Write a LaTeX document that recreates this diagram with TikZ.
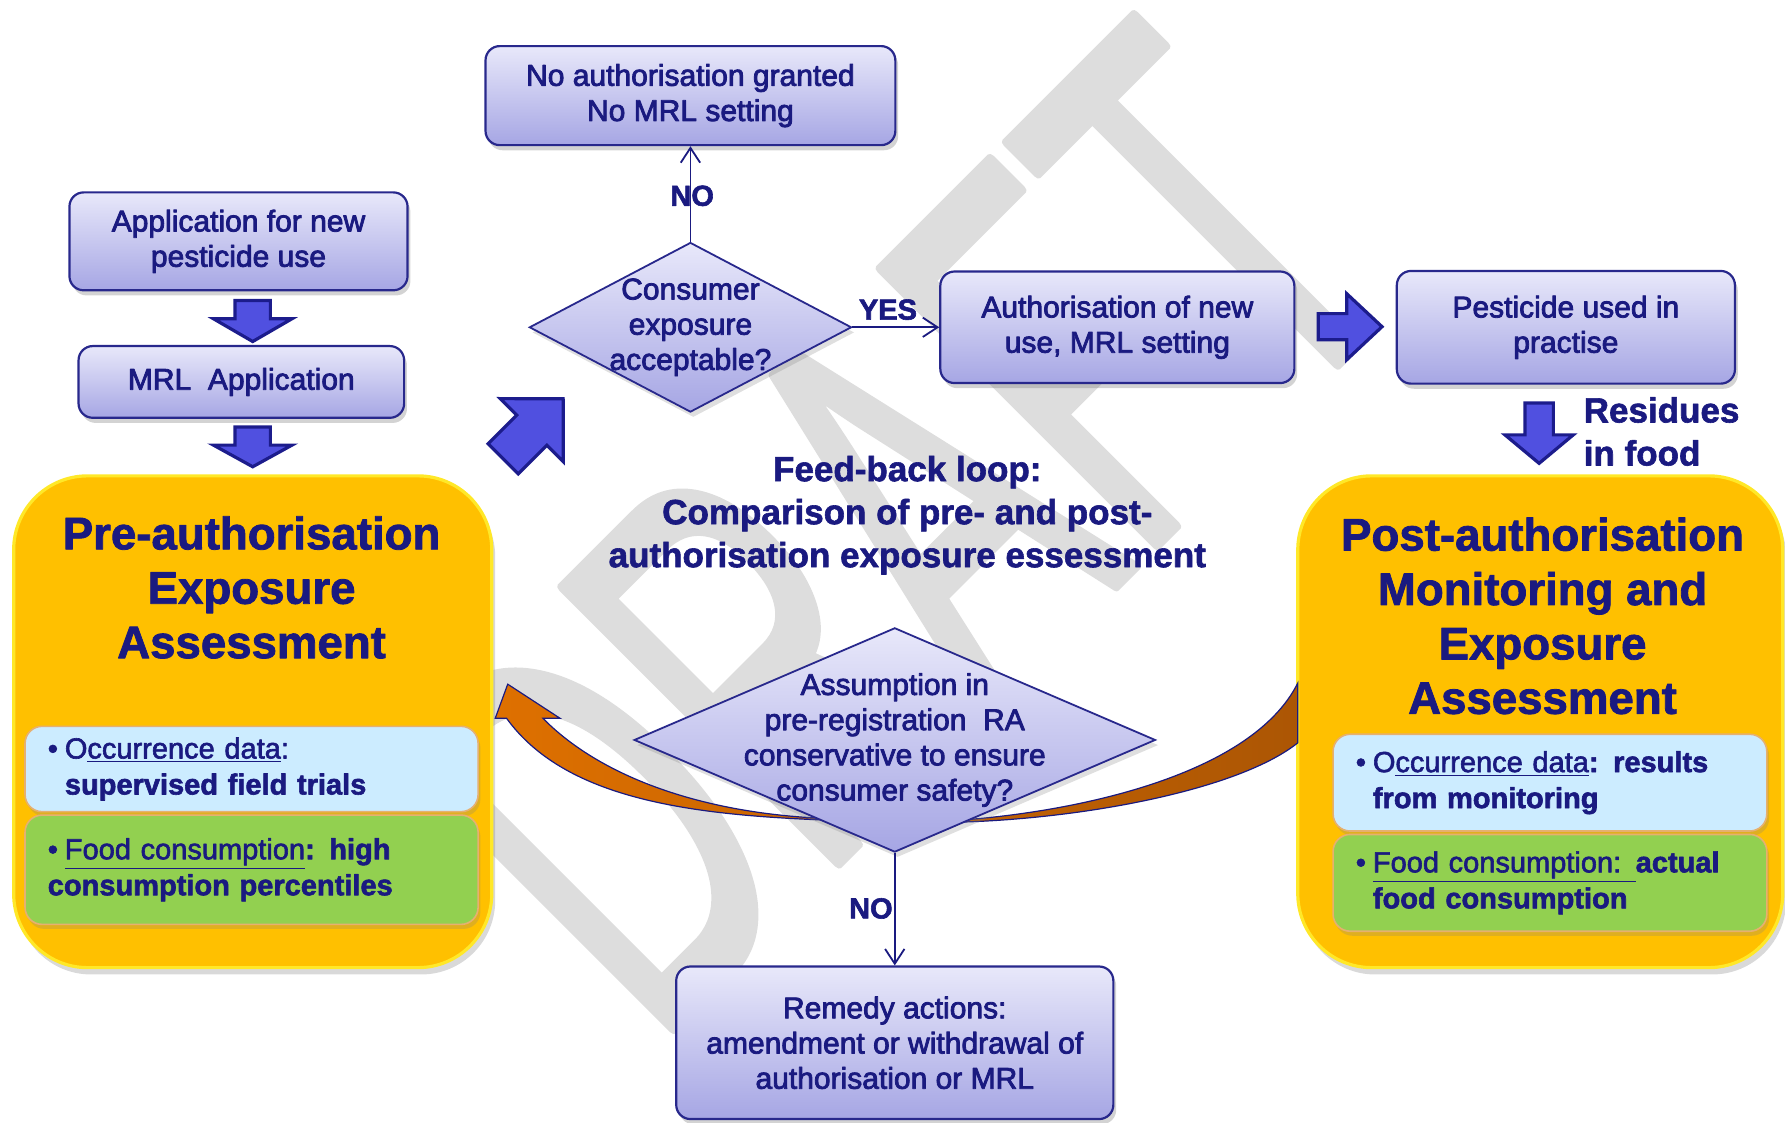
\documentclass[tikz,border=0pt]{standalone}
\usepackage{fontspec}
\setmainfont{Liberation Sans}
\usetikzlibrary{shapes.geometric,shadows,arrows.meta}

\definecolor{navy}{RGB}{26,26,128}
\definecolor{boxtop}{RGB}{232,232,250}
\definecolor{boxbot}{RGB}{166,166,228}
\definecolor{boxline}{RGB}{40,40,140}
\definecolor{arrfill}{RGB}{80,80,224}
\definecolor{arrline}{RGB}{28,28,140}
\definecolor{amber}{RGB}{255,192,0}
\definecolor{amberline}{RGB}{255,232,40}
\definecolor{skyfill}{RGB}{204,236,255}
\definecolor{leaf}{RGB}{146,208,80}
\definecolor{tanline}{RGB}{230,176,112}
\definecolor{wmark}{RGB}{221,221,221}
\definecolor{orangeL}{RGB}{222,112,0}
\definecolor{orangeR}{RGB}{172,86,4}

\newcommand{\bulletmark}{\makebox[0.3cm][l]{\textbullet}}
% heavier text strokes
\newcommand{\inkstroke}[1]{\special{pdf:literal direct 2 Tr #1 w 1 j}}

\tikzset{
  flowbox/.style={rectangle, rounded corners=0.25cm, draw=boxline, line width=1.1pt,
    top color=boxtop, bottom color=boxbot, text=navy, align=center,
    font=\fontsize{15}{17.6}\selectfont\inkstroke{0.4},
    drop shadow={opacity=0.35, shadow xshift=0.5mm, shadow yshift=-0.9mm}},
  decision/.style={diamond, draw=boxline, line width=0.9pt, inner sep=0pt,
    top color=boxtop, bottom color=boxbot,
    drop shadow={opacity=0.25, shadow xshift=0.5mm, shadow yshift=-0.9mm}},
  dtext/.style={text=navy, align=center, font=\fontsize{15}{17.6}\selectfont\inkstroke{0.4}},
  bigbox/.style={rectangle, rounded corners=1.3cm, fill=amber, draw=amberline, line width=1.6pt,
    drop shadow={opacity=0.3, shadow xshift=0.6mm, shadow yshift=-1.2mm}},
  infobox/.style={rectangle, rounded corners=0.3cm, draw=tanline, line width=0.8pt,
    text=navy, align=left, inner xsep=0.4cm, font=\fontsize{14.5}{18}\selectfont\inkstroke{0.3},
    drop shadow={opacity=0.25, shadow xshift=0.4mm, shadow yshift=-0.8mm}},
  title/.style={text=navy, align=center, font=\fontsize{22.8}{27.2}\selectfont\bfseries\inkstroke{0.4}},
  lbl/.style={text=navy, font=\fontsize{14.5}{16}\selectfont\bfseries\inkstroke{0.3}},
  link/.style={draw=navy, line width=0.9pt, -{Straight Barb[length=2.6mm,width=3.4mm]}},
  watermark/.style={text=wmark, inner sep=0pt, transform shape,
    font=\fontsize{162}{162}\selectfont\inkstroke{3.0}},
  pics/blockarr/.style n args={4}{code={
    \draw[fill=arrfill, draw=arrline, line width=1.6pt, line join=miter]
      (0,-#3/2) -- ({#1-#2},-#3/2) -- ({#1-#2},-#4/2) -- (#1,0)
      -- ({#1-#2},#4/2) -- ({#1-#2},#3/2) -- (0,#3/2) -- cycle;
  }}
}

\begin{document}
\begin{tikzpicture}
\useasboundingbox (0,0) rectangle (31.36,-19.72);

% DRAFT watermark
\begin{scope}[shift={(15.76,-9.29)}, rotate=45, yscale=1.75]
  \node[watermark] (draftmark) at (0,0) {DRAFT};
\end{scope}

% Application side
\node[flowbox, minimum width=5.94cm, minimum height=1.72cm] (appl) at (4.19,-4.24) {Application for new\\pesticide use};
\node[flowbox, minimum width=5.72cm, minimum height=1.26cm] (mrl) at (4.24,-6.71) {MRL\ \ Application};
\pic[rotate=-90] at (4.44,-5.28) {blockarr={0.72}{0.40}{0.62}{1.38}};
\pic[rotate=-90] at (4.44,-7.50) {blockarr={0.70}{0.38}{0.62}{1.38}};

% Pre-authorisation assessment
\node[bigbox, minimum width=8.4cm, minimum height=8.64cm] (prebox) at (4.44,-12.68) {};
\node[title] (pretitle) at (4.42,-10.32) {Pre-authorisation\\Exposure\\Assessment};
\node[infobox, fill=skyfill, text width=7.16cm, minimum height=1.5cm] (occpre) at (4.42,-13.51)
  {\bulletmark O\underline{ccurrence data}:\\\hspace*{0.3cm}\textbf{supervised field trials}};
\node[infobox, fill=leaf, text width=7.16cm, minimum height=1.92cm] (foodpre) at (4.42,-15.28)
  {\bulletmark\underline{Food consumption}\textbf{: high}\\\textbf{consumption percentiles}};

% Post-authorisation assessment
\node[bigbox, minimum width=8.52cm, minimum height=8.64cm] (postbox) at (27.06,-12.68) {};
\node[title] (posttitle) at (27.1,-10.82) {Post-authorisation\\Monitoring and\\Exposure\\Assessment};
\node[infobox, fill=skyfill, text width=6.82cm, minimum height=1.7cm] (occpost) at (27.23,-13.75)
  {\bulletmark O\underline{ccurrence data}\textbf{: results}\\\hspace*{0.3cm}\textbf{from monitoring}};
\node[infobox, fill=leaf, text width=6.82cm, minimum height=1.7cm] (foodpost) at (27.23,-15.51)
  {\bulletmark\underline{Food consumption: }\textbf{actual}\\\hspace*{0.3cm}\textbf{food consumption}};

% Feed-back arrow
\draw[draw=navy, line width=0.6pt, left color=orangeL, right color=orangeR]
  (8.92,-12.02) -- (9.84,-12.62) -- (9.54,-12.62)
  .. controls (10.4,-13.5) and (12.0,-14.24) .. (14.32,-14.37)
  -- (16.98,-14.40)
  .. controls (19.0,-14.24) and (22.0,-13.6) .. (22.8,-12.0)
  -- (22.8,-13.05)
  .. controls (21.8,-13.85) and (19.2,-14.36) .. (16.98,-14.44)
  -- (14.32,-14.40)
  .. controls (12.0,-14.3) and (9.9,-14.0) .. (8.9,-12.62)
  -- (8.7,-12.62) -- cycle;

% Decision on authorisation
\pic[rotate=45] at (8.84,-8.06) {blockarr={1.49}{0.78}{0.75}{1.57}};
\node[flowbox, minimum width=7.2cm, minimum height=1.74cm] (noauth) at (12.13,-1.68) {No authorisation granted\\No MRL setting};
\node[decision, minimum width=5.66cm, minimum height=2.98cm] (cons) at (12.13,-5.75) {};
\node[dtext] (constext) at (cons) {Consumer\\exposure\\acceptable?};
\node[flowbox, minimum width=6.22cm, minimum height=1.96cm] (auth) at (19.63,-5.75) {Authorisation of new\\use, MRL setting};
\node[flowbox, minimum width=5.94cm, minimum height=1.98cm] (used) at (27.51,-5.75) {Pesticide used in\\practise};
\draw[link] (cons.north) -- (noauth.south);
\draw[link] (cons.east) -- (auth.west);
\node[lbl] (nolbl) at (12.16,-3.44) {NO};
\node[lbl] (yeslbl) at (15.6,-5.44) {YES};
\pic at (23.16,-5.74) {blockarr={1.12}{0.62}{0.46}{1.16}};
\pic[rotate=-90] at (27.04,-7.08) {blockarr={1.06}{0.50}{0.50}{1.20}};
\node[text=navy, anchor=west, align=left, font=\fontsize{17.5}{21.5}\selectfont\bfseries\inkstroke{0.3}] (residues) at (27.7,-7.58) {Residues\\in food};

% Feed-back loop
\node[text=navy, align=center, font=\fontsize{17.5}{21.5}\selectfont\bfseries\inkstroke{0.3}] (loop) at (15.94,-9.05)
  {Feed-back loop:\\Comparison of pre- and post-\\authorisation exposure essessment};
\node[decision, minimum width=9.16cm, minimum height=3.94cm] (assum) at (15.72,-13.0) {};
\node[dtext] (assumtext) at (assum) {Assumption in\\pre-registration\ \ RA\\conservative to ensure\\consumer safety?};
\node[flowbox, minimum width=7.68cm, minimum height=2.68cm] (remedy) at (15.72,-18.32)
  {Remedy actions:\\amendment or withdrawal of\\authorisation or MRL};
\draw[link] (assum.south) -- (remedy.north);
\node[lbl] (nolbl2) at (15.3,-15.96) {NO};
\end{tikzpicture}
\end{document}
